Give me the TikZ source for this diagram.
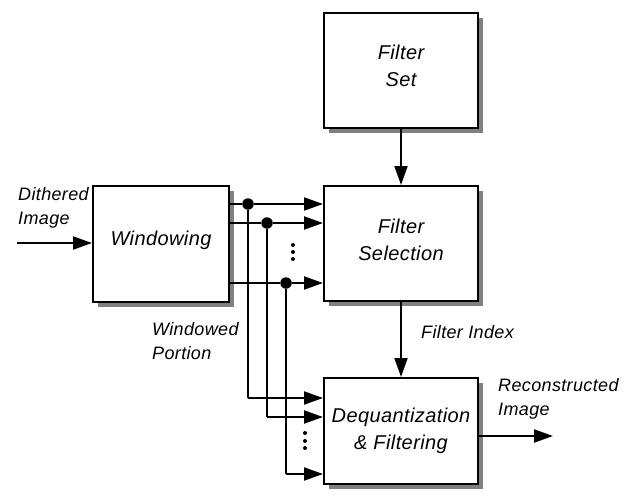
\documentclass[tikz,border=0pt]{standalone}
\usepackage{fontspec}
\setmainfont{Liberation Sans}[LetterSpace=2]
\usetikzlibrary{arrows.meta,shadows}
\begin{document}
\begin{tikzpicture}[x=1pt,y=-1pt,
  box/.style={draw,line width=2pt,fill=white,align=center,
    font=\fontsize{20}{27}\selectfont\itshape,
    drop shadow={shadow xshift=5pt,shadow yshift=-5pt,fill=black!50,opacity=1}},
  lab/.style={anchor=west,align=left,inner sep=0pt,font=\fontsize{18}{24}\selectfont\itshape},
  conn/.style={line width=2pt,-{Triangle[length=19pt,width=13pt]}},
  wire/.style={line width=2pt},
  junc/.style={circle,fill=black,inner sep=0pt,minimum size=11.5pt},
  vdot/.style={circle,fill=black,inner sep=0pt,minimum size=4pt}]
\useasboundingbox (0,0) rectangle (626,495);
\node[box,minimum width=154pt,minimum height=115pt,text depth=9pt] (fset) at (401,70.5) {Filter\\Set};
\node[box,minimum width=154pt,minimum height=115pt,text depth=8pt] (fsel) at (401,243.5) {Filter\\Selection};
\node[box,minimum width=136pt,minimum height=116pt,text depth=12pt] (win) at (161,244) {Windowing};
\node[box,minimum width=154pt,minimum height=106pt] (deq) at (401,431) {Dequantization\\\& Filtering};

% input / output
\coordinate (in) at (17,243);
\coordinate (out) at (553,436);
\draw[conn] (in) -- (in -| win.west);
\draw[conn] (out -| deq.east) -- (out);
\draw[conn] (fset) -- (fsel);
\draw[conn] (fsel) -- (deq);

% junctions
\node[junc] (j1) at (248,204) {};
\node[junc] (j2) at (267,223) {};
\node[junc] (j3) at (286,283) {};
\coordinate (b1) at (248,398);
\coordinate (b2) at (267,417);
\coordinate (b3) at (286,474);

\draw[wire] (j1 -| win.east) -- (j1);
\draw[wire] (j2 -| win.east) -- (j2);
\draw[wire] (j3 -| win.east) -- (j3);
\draw[conn] (j1) -- (j1 -| fsel.west);
\draw[conn] (j2) -- (j2 -| fsel.west);
\draw[conn] (j3) -- (j3 -| fsel.west);
\draw[wire] (j1) -- (b1);
\draw[wire] (j2) -- (b2);
\draw[wire] (j3) -- (b3);
\draw[conn] (b1) -- (b1 -| deq.west);
\draw[conn] (b2) -- (b2 -| deq.west);
\draw[conn] (b3) -- (b3 -| deq.west);

% vertical ellipses
\node[vdot] (d1) at (293,245) {};
\node[vdot] (d2) at (293,252) {};
\node[vdot] (d3) at (293,259) {};
\node[vdot] (e1) at (305,433) {};
\node[vdot] (e2) at (305,441) {};
\node[vdot] (e3) at (305,448) {};

% labels
\node[lab] (ldith) at (18,208) {Dithered\\Image};
\node[lab] (lwin) at (152,341) {Windowed\\Portion};
\node[lab] (lidx) at (421,332) {Filter Index};
\node[lab] (lrec) at (498,399) {Reconstructed\\Image};
\end{tikzpicture}
\end{document}
